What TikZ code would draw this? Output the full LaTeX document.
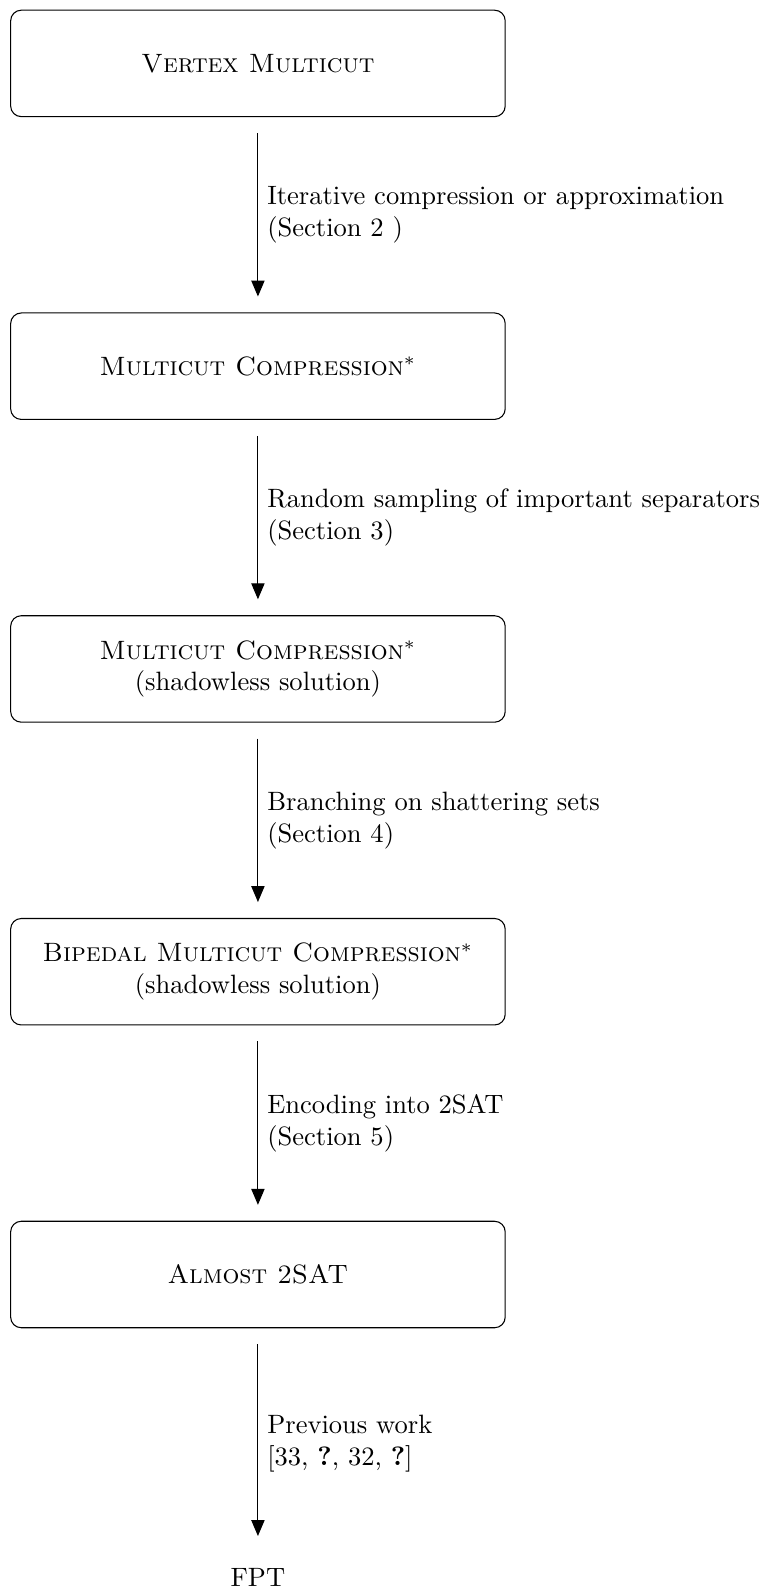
\documentclass[tikz,border=0pt]{standalone}
\usetikzlibrary{positioning,arrows.meta}

\tikzset{
	probbox/.style={draw,rounded corners=4pt,minimum width=6.55cm,minimum height=1.41cm,align=center},
	redarrow/.style={-{Triangle[length=6pt,width=5pt]},shorten <=6pt,shorten >=6pt},
	steplabel/.style={midway,right,align=left}
}

\begin{document}
\begin{tikzpicture}[node distance=4.01cm,on grid]
	\useasboundingbox (-97.2pt,23.9pt) rectangle (191pt,-574.9pt);
	\node[probbox] (vmc) at (0,0) {\textsc{Vertex Multicut}};
	\node[probbox,below=of vmc] (mcc) {\textsc{Multicut Compression}$^*$};
	\node[probbox,below=of mcc] (mccs) {\textsc{Multicut Compression}$^*$\\(shadowless solution)};
	\node[probbox,below=of mccs] (bmcc) {\textsc{Bipedal Multicut Compression}$^*$\\(shadowless solution)};
	\node[probbox,below=of bmcc] (asat) {\textsc{Almost 2SAT}};
	\node[below=of asat] (fpt) {FPT};
	\draw[redarrow](vmc)--(mcc) node[steplabel] (l1) {Iterative compression or approximation\\(Section 2 )};
	\draw[redarrow](mcc)--(mccs) node[steplabel] (l2) {Random sampling of important separators\\(Section 3)};
	\draw[redarrow](mccs)--(bmcc) node[steplabel] (l3) {Branching on shattering sets\\(Section 4)};
	\draw[redarrow](bmcc)--(asat) node[steplabel] (l4) {Encoding into 2SAT\\(Section 5)};
	\draw[redarrow,shorten >=8.6pt](asat)--(fpt) node[steplabel] (l5) {Previous work\\{[33, \textbf{?}, 32, \textbf{?}]}};
\end{tikzpicture}
\end{document}
